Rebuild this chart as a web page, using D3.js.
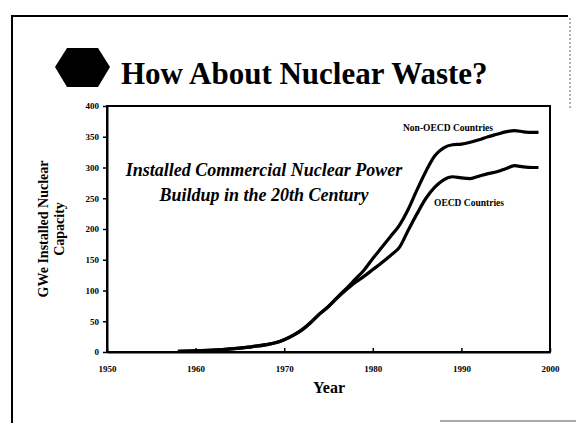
<!DOCTYPE html>
<html><head><meta charset="utf-8">
<script src="https://cdn.jsdelivr.net/npm/d3@7/dist/d3.min.js"></script>
<style>body{margin:0;background:#fff}svg{display:block}</style>
</head><body>
<script>
const years = [1958,1960,1962,1964,1966,1968,1969,1970,1971,1972,1973,1974,1975,1976,1977,1978,1979,1980,1981,1982,1983,1984,1985,1986,1987,1988,1989,1990,1991,1992,1993,1994,1995,1996,1997,1998,1998.7];
const nonOecd = [1,2,3,5,8,12,15,20,27,36,48,62,74,89,103,118,133,152,170,188,206,232,264,294,319,332,337,338,341,345,350,354,358,360,358,357,357];
const oecd    = [1,2,3,5,8,12,15,20,27,36,48,62,74,88,101,113,123,134,145,157,170,198,225,250,268,280,285,283,282,286,290,293,298,303,301,300,300];
const yTicks = [0,50,100,150,200,250,300,350,400];
const xTicks = [1950,1960,1970,1980,1990,2000];

const W=576,H=423;
const svg=d3.select("body").append("svg").attr("width",W).attr("height",H);
const serif="'Liberation Serif','Times New Roman',serif";

// slide border
svg.append("line").attr("x1",11).attr("x2",568).attr("y1",16).attr("y2",16).attr("stroke","#000").attr("stroke-width",2);
svg.append("line").attr("x1",12).attr("x2",12).attr("y1",15).attr("y2",423).attr("stroke","#000").attr("stroke-width",2);
svg.append("line").attr("x1",570).attr("x2",570).attr("y1",18).attr("y2",110).attr("stroke","#999").attr("stroke-width",1.5).attr("stroke-dasharray","2,2");
svg.append("line").attr("x1",440).attr("x2",576).attr("y1",421).attr("y2",421).attr("stroke","#aaa").attr("stroke-width",2);

// hexagon bullet
svg.append("polygon").attr("points","55,67 67,48 98,48 110,67 98,87 67,87").attr("fill","#000");
svg.append("text").attr("x",121).attr("y",84).attr("font-family",serif).attr("font-weight","bold")
  .attr("font-size",31).text("How About Nuclear Waste?");

const x=d3.scaleLinear().domain([1950,2000]).range([107,550]);
const y=d3.scaleLinear().domain([0,400]).range([352,106]);

// frame
svg.append("rect").attr("x",107).attr("y",106).attr("width",443).attr("height",246)
  .attr("fill","none").attr("stroke","#000").attr("stroke-width",2);

const xa=svg.append("g").attr("transform","translate(0,352)")
  .call(d3.axisBottom(x).tickValues(xTicks).tickFormat(d3.format("d")).tickSizeInner(-4).tickSizeOuter(0).tickPadding(14));
const ya=svg.append("g").attr("transform","translate(107,0)")
  .call(d3.axisLeft(y).tickValues(yTicks).tickSizeInner(4).tickSizeOuter(0).tickPadding(4));
[xa,ya].forEach(a=>{
  a.select(".domain").attr("stroke","#000").attr("stroke-width",2);
  a.selectAll(".tick line").attr("stroke","#000").attr("stroke-width",1.5);
  a.selectAll("text").attr("font-family",serif).attr("font-weight","bold").attr("font-size",9).attr("fill","#000");
});

const line=d3.line().x((d,i)=>x(years[i])).y(d=>y(d)).curve(d3.curveMonotoneX);
[nonOecd,oecd].forEach(s=>{
  svg.append("path").attr("d",line(s)).attr("fill","none").attr("stroke","#000").attr("stroke-width",3.2).attr("stroke-linejoin","round");
});

svg.append("text").attr("x",403).attr("y",131).attr("font-family",serif).attr("font-weight","bold").attr("font-size",9.5).text("Non-OECD Countries");
svg.append("text").attr("x",434).attr("y",206).attr("font-family",serif).attr("font-weight","bold").attr("font-size",9.5).text("OECD Countries");

const ann=svg.append("text").attr("font-family",serif).attr("font-weight","bold").attr("font-style","italic").attr("font-size",18).attr("text-anchor","middle");
ann.append("tspan").attr("x",264).attr("y",176).text("Installed Commercial Nuclear Power");
ann.append("tspan").attr("x",264).attr("y",201).text("Buildup in the 20th Century");

svg.append("text").attr("x",329).attr("y",393).attr("text-anchor","middle").attr("font-family",serif).attr("font-weight","bold").attr("font-size",16).text("Year");

const yt=svg.append("text").attr("transform","translate(0,229) rotate(-90)").attr("text-anchor","middle")
  .attr("font-family",serif).attr("font-weight","bold").attr("font-size",14);
yt.append("tspan").attr("x",0).attr("y",48).text("GWe Installed Nuclear");
yt.append("tspan").attr("x",0).attr("y",64).text("Capacity");
</script>
</body></html>
